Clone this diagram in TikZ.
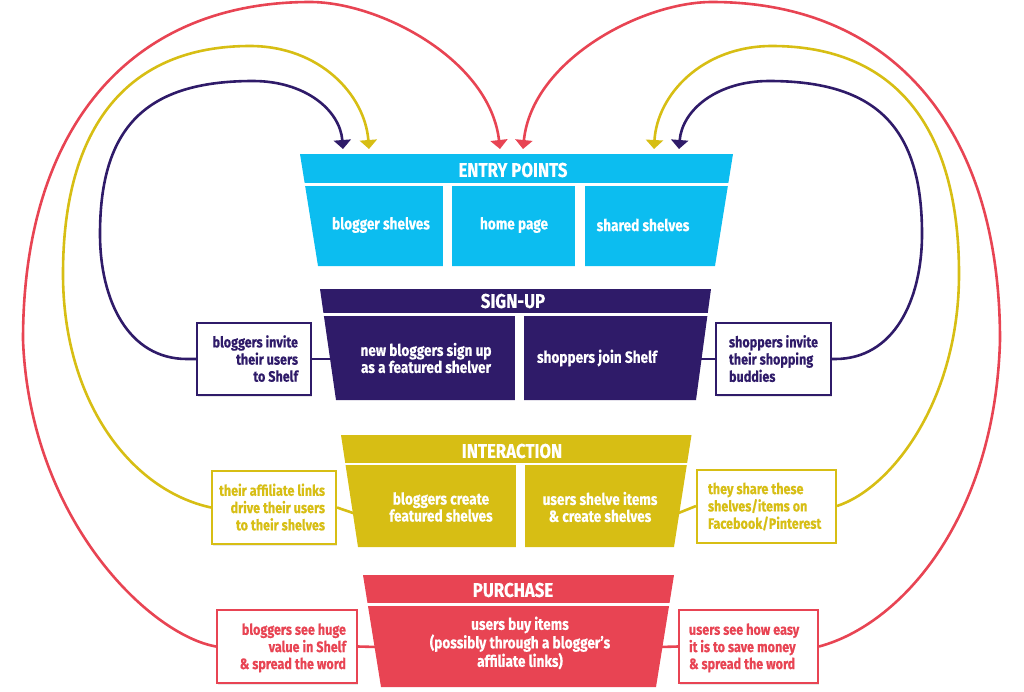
\documentclass[tikz,border=0pt]{standalone}
\usepackage{fontspec}
\setmainfont{Fira Sans}[FakeStretch=0.84,BoldFeatures={FakeBold=0.35}]
\usetikzlibrary{arrows.meta,shadows}
\definecolor{cyanE}{HTML}{0CBDF0}
\definecolor{navyS}{HTML}{2F1B69}
\definecolor{yelI}{HTML}{D7BE14}
\definecolor{redP}{HTML}{E84453}
\newcommand{\rtext}[2]{\raisebox{-2pt}[\height][\depth]{\makebox[#1][r]{\begin{tabular}{@{}r@{}}#2\end{tabular}}}}
\newcommand{\ltext}[2]{\raisebox{-2pt}[\height][\depth]{\makebox[#1][l]{\begin{tabular}{@{}l@{}}#2\end{tabular}}}}
\begin{document}
\begin{tikzpicture}[x=1pt,y=-1pt,
  hdr/.style={text=white,inner sep=0pt,font=\bfseries\fontsize{20}{22}\selectfont},
  inbox/.style={text=white,inner sep=0pt,align=center,font=\bfseries\fontsize{16.2}{17}\selectfont},
  side/.style={draw=#1,text=#1,line width=2pt,fill=white,inner sep=0pt,
    drop shadow={shadow xshift=1.2pt,shadow yshift=-1.8pt,opacity=0.18},
    font=\bfseries\fontsize{15}{17}\selectfont},
  loopline/.style={draw=#1,line width=2.6pt,-{Triangle[width=17pt,length=9pt]}},
  link/.style={draw=#1,line width=2.6pt},
  gapline/.style={draw=white,line width=#1},
]
\useasboundingbox (0,0) rectangle (1024,691);

% ---------- side boxes ----------
\node[side=navyS,minimum width=114pt,minimum height=72pt] (sl) at (254,359) {\rtext{88pt}{bloggers invite\\their users\\to Shelf}};
\node[side=navyS,minimum width=115pt,minimum height=72pt] (sr) at (773.5,359) {\ltext{89pt}{shoppers invite\\their shopping\\buddies}};
\node[side=yelI,minimum width=124pt,minimum height=73pt] (yl) at (274,507.5) {\rtext{102pt}{their affiliate links\\drive their users\\to their shelves}};
\node[side=yelI,minimum width=139pt,minimum height=73pt] (yr) at (766.5,506) {\ltext{117pt}{they share these\\shelves/items on\\Facebook/Pinterest}};
\node[side=redP,minimum width=140pt,minimum height=73pt] (rl) at (287,646.5) {\rtext{118pt}{bloggers see huge\\value in Shelf\\\& spread the word}};
\node[side=redP,minimum width=139pt,minimum height=73pt] (rr) at (748.5,646.5) {\ltext{119pt}{users see how easy\\it is to save money\\\& spread the word}};

% ---------- edge points of the funnel stages ----------
\coordinate (sLe) at (334,359);
\coordinate (sRe) at (698,359);
\coordinate (iLe) at (356,514);
\coordinate (iRe) at (676,514);
\coordinate (pLe) at (377,647);
\coordinate (pRe) at (660,647);

% arrow targets
\coordinate (tNL) at (343,149);
\coordinate (tYL) at (369,149);
\coordinate (tRL) at (500,149);
\coordinate (tRR) at (523,149);
\coordinate (tYR) at (654,149);
\coordinate (tNR) at (679,149);

% ---------- short links ----------
\draw[link=navyS] (sl.east) -- (sLe);
\draw[link=navyS] (sr.west) -- (sRe);
\draw[link=yelI] (yl.east) -- (iLe);
\draw[link=yelI] (yr.west) -- (iRe);
\draw[link=redP] (rl.east) -- (pLe);
\draw[link=redP] (rr.west) -- (pRe);

% ---------- funnel stages ----------
% Entry points
\fill[cyanE] (300,154) -- (733,154) -- (715,266) -- (318,266) -- cycle;
\draw[gapline=2.6pt] (290,184.5) -- (745,184.5);
\fill[white] (443,184) rectangle (452,268);
\fill[white] (575,184) rectangle (585,268);
% Sign-up
\fill[navyS] (320,289) -- (711,289) -- (696,400) -- (336,400) -- cycle;
\draw[gapline=2.6pt] (310,314.5) -- (720,314.5);
\fill[white] (515,314) rectangle (524,402);
% Interaction
\fill[yelI] (341,435) -- (691.5,435) -- (674,547) -- (358,547) -- cycle;
\draw[gapline=2.6pt] (330,464) -- (700,464);
\fill[white] (515.5,463) rectangle (525,549);
% Purchase
\fill[redP] (363,575) -- (674,575) -- (656,687) -- (381,687) -- cycle;
\draw[gapline=2.6pt] (350,604.5) -- (690,604.5);

% ---------- stage texts ----------
\node[hdr] (eH) at (513,170) {ENTRY POINTS};
\node[inbox] (e1) at (381,225) {blogger shelves};
\node[inbox] (e2) at (514,225) {home page};
\node[inbox] (e3) at (643,225) {shared shelves};

\node[hdr] (sH) at (513,301) {SIGN-UP};
\node[inbox] (s1) at (426,358) {new bloggers sign up\\as a featured shelver};
\node[inbox] (s2) at (597,358) {shoppers join Shelf};

\node[hdr] (iH) at (512,451) {INTERACTION};
\node[inbox] (i1) at (441,507) {bloggers create\\featured shelves};
\node[inbox] (i2) at (600,507) {users shelve items\\\& create shelves};

\node[hdr] (pH) at (513,590) {PURCHASE};
\node[inbox] (p1) at (520,643) {users buy items\\(possibly through a blogger’s\\affiliate links)};

% ---------- feedback loops ----------
\draw[loopline=navyS] (sl.west) -- (187,359)
  .. controls (128,359) and (100,300) .. (100,234)
  .. controls (100,127) and (146,81) .. (253,81)
  .. controls (305,81) and (340,110) .. (tNL);
\draw[loopline=yelI] (yl.west)
  .. controls (130,490) and (63,400) .. (63,274)
  .. controls (63,126) and (128,46) .. (250,46)
  .. controls (320,46) and (365,95) .. (tYL);
\draw[loopline=redP] (rl.west)
  .. controls (150,635) and (30,520) .. (23,340)
  .. controls (23,128) and (130,2) .. (310,2)
  .. controls (380,2) and (490,60) .. (tRL);

\draw[loopline=navyS] (sr.east) -- (835,359)
  .. controls (894,359) and (922,300) .. (922,234)
  .. controls (922,127) and (876,81) .. (769,81)
  .. controls (717,81) and (682,110) .. (tNR);
\draw[loopline=yelI] (yr.east)
  .. controls (892,488) and (959,400) .. (959,274)
  .. controls (959,126) and (894,46) .. (772,46)
  .. controls (702,46) and (657,95) .. (tYR);
\draw[loopline=redP] (rr.east)
  .. controls (900,625) and (995,520) .. (1000,340)
  .. controls (1000,128) and (892,2) .. (712,2)
  .. controls (642,2) and (532,60) .. (tRR);
\end{tikzpicture}
\end{document}
